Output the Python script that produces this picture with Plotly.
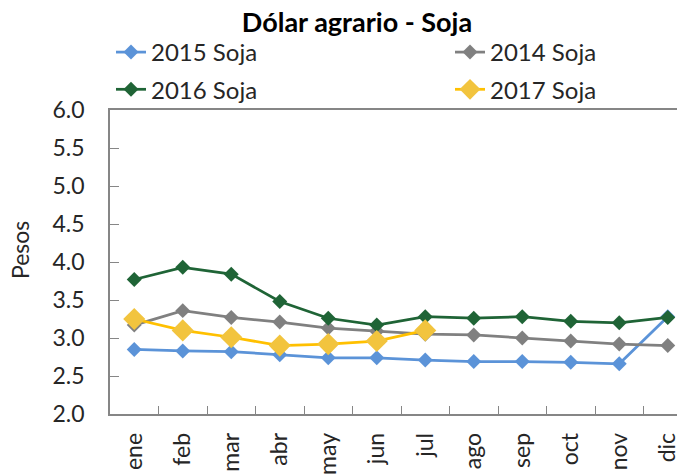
import plotly.graph_objects as go

months = ["ene", "feb", "mar", "abr", "may", "jun", "jul", "ago", "sep", "oct", "nov", "dic"]
soja_2015 = [2.85, 2.83, 2.82, 2.78, 2.74, 2.74, 2.71, 2.69, 2.69, 2.68, 2.66, 3.28]
soja_2014 = [3.17, 3.36, 3.27, 3.21, 3.13, 3.09, 3.05, 3.04, 3.00, 2.96, 2.92, 2.90]
soja_2016 = [3.77, 3.93, 3.84, 3.48, 3.26, 3.17, 3.28, 3.26, 3.28, 3.22, 3.20, 3.27]
soja_2017 = [3.25, 3.10, 3.01, 2.90, 2.92, 2.96, 3.10]

FONT = "Lato"
AXIS_COLOR = "#868686"
TXT = "#262626"

# page is drawn with the default 8px body margin
W, H = 677, 468

series = [
    ("2015 Soja", soja_2015, "#5B93D8", "#5B93D8", 11.5, "legend"),
    ("2014 Soja", soja_2014, "#808080", "#808080", 11.5, "legend2"),
    ("2016 Soja", soja_2016, "#1F6436", "#1F6436", 11.5, "legend"),
    ("2017 Soja", soja_2017, "#FFC000", "#F2C43E", 17, "legend2"),
]

fig = go.Figure()
for name, vals, lc, mc, ms, lg in series:
    fig.add_trace(go.Scatter(
        x=months[:len(vals)], y=vals, name=name, mode="lines+markers",
        line=dict(color=lc, width=2.75),
        marker=dict(symbol="diamond", size=ms, color=mc),
        legend=lg, legendgroup=name,
    ))

legend_common = dict(orientation="v", xref="container", yref="container",
                     xanchor="left", yanchor="top", y=1 - 22 / H,
                     font=dict(size=24, color=TXT), bgcolor="rgba(0,0,0,0)",
                     tracegroupgap=3, itemwidth=30)

fig.update_layout(
    width=W, height=H,
    margin=dict(l=102, r=0, t=102, b=62, autoexpand=False),
    paper_bgcolor="white", plot_bgcolor="white",
    font=dict(family=FONT, size=22, color=TXT),
    title=dict(text="<b>Dólar agrario - Soja</b>", x=349 / W, xanchor="center",
               xref="container", yref="container",
               y=1 - 15 / H, yanchor="middle", font=dict(size=27, color="#000000")),
    showlegend=True,
    legend=dict(x=103 / W, **legend_common),
    legend2=dict(x=442 / W, **legend_common),
    xaxis=dict(type="category", categoryorder="array", categoryarray=months,
               range=[-0.5, -0.5 + 575 / 48.5],
               tickson="boundaries", ticks="inside", ticklen=8, tickcolor=AXIS_COLOR,
               showline=True, linecolor=AXIS_COLOR, linewidth=1.5, mirror=True,
               showgrid=False, tickangle=-90, tickfont=dict(size=23, color=TXT),
               zeroline=False, ticklabelstandoff=8),
    yaxis=dict(range=[2, 6], dtick=0.5, tickformat=".1f",
               ticks="inside", ticklen=9, tickcolor=AXIS_COLOR,
               showline=True, linecolor=AXIS_COLOR, linewidth=1.5,
               showgrid=False, zeroline=False, tickfont=dict(size=23, color=TXT),
               ticklabelstandoff=19),
    annotations=[dict(text="Pesos", xref="paper", yref="paper",
                      x=(20 - 110) / 575, y=(414 - 250) / 304, xanchor="center",
                      yanchor="middle", textangle=-90, showarrow=False,
                      borderpad=0, font=dict(size=23, color=TXT))],
)

fig.write_html("out.html")
